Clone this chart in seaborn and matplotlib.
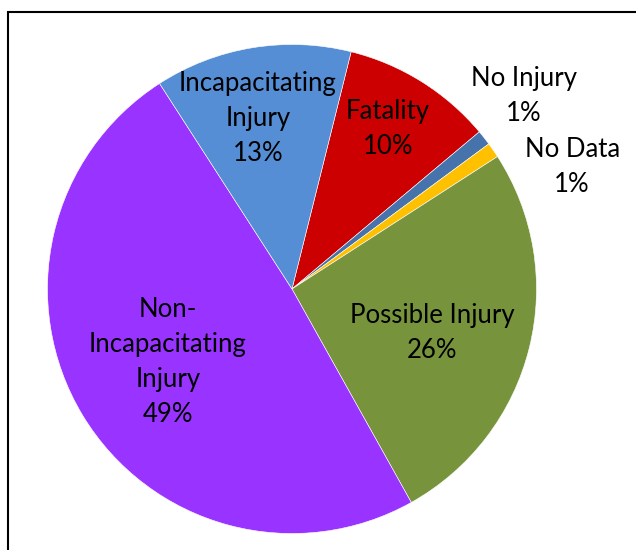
import numpy as np
import matplotlib
matplotlib.use("Agg")
import matplotlib.pyplot as plt
from matplotlib.patches import Rectangle
import seaborn as sns

# Injury severity shares (percent)
categories = ["Fatality", "No Injury", "No Data", "Possible Injury",
              "Non-Incapacitating Injury", "Incapacitating Injury"]
shares = [10, 1, 1, 26, 49, 13]
label_text = ["Fatality", "No Injury", "No Data", "Possible Injury",
              "Non-\nIncapacitating\nInjury", "Incapacitating\nInjury"]
slice_colors = ["#CC0000", "#4673AC", "#FFC000", "#77933C", "#9933FF", "#558ED5"]

sns.set_theme(style="white")
plt.rcParams["font.family"] = ["Lato", "DejaVu Sans"]

fig = plt.figure(figsize=(6.36, 5.5), dpi=100)
ax = fig.add_axes([47.5 / 636, 16.5 / 550, 489 / 636, 489 / 550])

palette = sns.color_palette(slice_colors)
wedges, _ = ax.pie(shares, colors=palette, startangle=76, counterclock=False,
                   radius=1.0, wedgeprops=dict(edgecolor="white", linewidth=0.4))
ax.set_xlim(-1, 1)
ax.set_ylim(-1, 1)
ax.set_aspect("equal")
ax.axis("off")

# label placement: distance from centre and angular nudge (degrees)
label_dist = [0.763, 1.234, 1.25, 0.601, 0.589, 0.711]
label_nudge = [1.0, 1.5, -11.0, -3.6, -0.5, 1.9]

for w, txt, val, d, nudge in zip(wedges, label_text, shares, label_dist, label_nudge):
    mid = np.deg2rad((w.theta1 + w.theta2) / 2 + nudge)
    x, y = d * np.cos(mid), d * np.sin(mid)
    ax.text(x, y, f"{txt}\n{val}%", ha="center", va="center",
            fontsize=18.5, color="black", linespacing=1.5, clip_on=False)

# outer frame
fig.patches.append(Rectangle((7.5 / 636, -0.2), 1.2, 0.2 + 1 - 11.5 / 550,
                             transform=fig.transFigure, fill=False,
                             edgecolor="black", linewidth=1.5))

fig.savefig("out.png", dpi=100)
